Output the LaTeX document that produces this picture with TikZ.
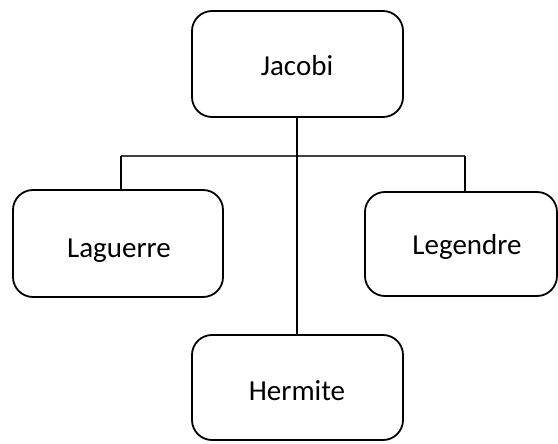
\documentclass[tikz,border=0pt]{standalone}
\usepackage{fontspec}
\setmainfont{Carlito}
\begin{document}
\begin{tikzpicture}[x=1pt,y=-1pt,
  person/.style={draw=black, line width=1.8pt, rounded corners=20pt, fill=white},
  nametext/.style={font=\fontsize{29}{34}\selectfont, inner sep=0pt, anchor=center},
  link/.style={draw=black, line width=1.8pt},
  bar/.style={draw=black!75, line width=1.4pt}]
\useasboundingbox (0,0) rectangle (558,444);
% family boxes
\draw[person] (192,11) rectangle (403,117);
\draw[person] (13,190) rectangle (223,297);
\draw[person] (365,192) rectangle (557,296);
\draw[person] (192,335) rectangle (403,440);
% box anchors
\coordinate (jb) at (297,117);
\coordinate (lgt) at (121,190);
\coordinate (let) at (465,192);
\coordinate (ht) at (297,335);
\coordinate (bl) at (121,156);
\coordinate (br) at (465,156);
% connectors
\draw[bar] (bl) -- (br);
\draw[link] (bl) -- (lgt);
\draw[link] (br) -- (let);
\draw[link] (jb) -- (ht);
% names
\node[nametext] (jacobi) at (297,66) {Jacobi};
\node[nametext] (laguerre) at (119,251) {Laguerre};
\node[nametext] (legendre) at (467,247) {Legendre};
\node[nametext] (hermite) at (297,391) {Hermite};
\end{tikzpicture}
\end{document}
